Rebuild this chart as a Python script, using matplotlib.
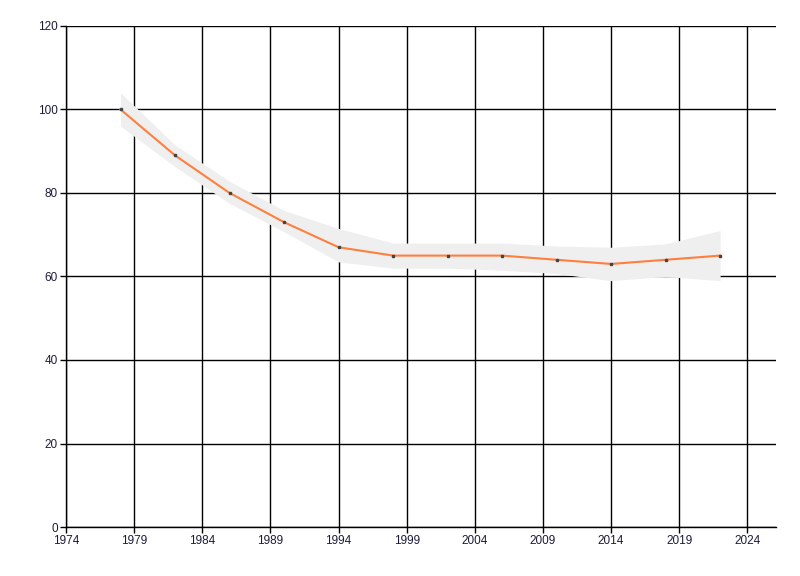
import matplotlib.pyplot as plt

# data
years = [1978, 1982, 1986, 1990, 1994, 1998, 2002, 2006, 2010, 2014, 2018, 2022]
values = [100, 89, 80, 73, 67, 65, 65, 65, 64, 63, 64, 65]
band_upper = [104, 91.5, 82.8, 75.8, 71.5, 68, 68, 68, 67.3, 67, 67.8, 71]
band_lower = [96, 86.3, 77.5, 70.7, 63.5, 62, 62, 61.5, 60.7, 59, 60, 59]

x_ticks = [1974, 1979, 1984, 1989, 1994, 1999, 2004, 2009, 2014, 2019, 2024]
y_ticks = [0, 20, 40, 60, 80, 100, 120]

plt.rcParams['font.family'] = ['Liberation Sans', 'DejaVu Sans']

fig = plt.figure(figsize=(8, 5.76), dpi=100)
ax = fig.add_axes([0.0825, 0.085, 0.8875, 0.87])

# confidence band + line
ax.fill_between(years, band_lower, band_upper, color="#efefef", linewidth=0, zorder=3)
ax.plot(years, values, color="#ff7f3f", linewidth=1.5, zorder=4)
ax.plot(years, values, linestyle="none", marker="s", markersize=2,
        color="#444444", zorder=5)

ax.set_xlim(1974, 2026.1)
ax.set_ylim(0, 120)
ax.set_xticks(x_ticks)
ax.set_yticks(y_ticks)

# grid
ax.grid(True, color="black", linewidth=1, zorder=1)
ax.set_axisbelow(True)

for side in ["top", "right"]:
    ax.spines[side].set_visible(False)
for side in ["left", "bottom"]:
    ax.spines[side].set_color("black")
    ax.spines[side].set_linewidth(1)

ax.tick_params(axis="both", direction="out", length=4, width=1,
               labelsize=8.5, colors="black", labelcolor="#1c1c3a", pad=2)

fig.savefig("out.png", dpi=100)
